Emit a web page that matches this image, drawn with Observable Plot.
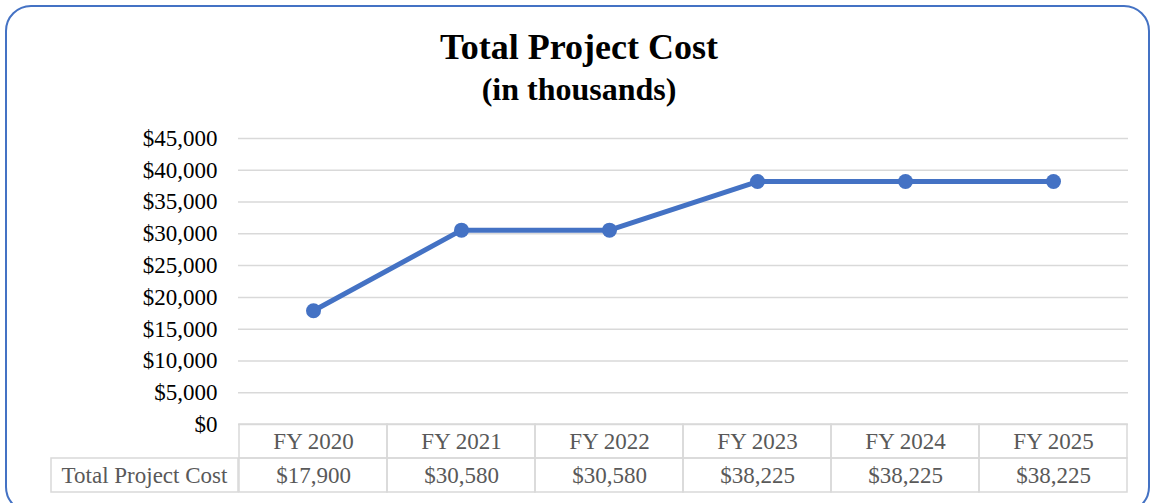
<!DOCTYPE html>
<html>
<head>
<meta charset="utf-8">
<script src="https://cdn.jsdelivr.net/npm/d3@7"></script>
<script src="https://cdn.jsdelivr.net/npm/@observablehq/plot@0.6"></script>
<style>
  html, body { margin: 0; padding: 0; background: #fff; }
  #wrap { position: relative; width: 1151px; height: 503px; overflow: hidden; font-family: "Liberation Serif", "Times New Roman", serif; }
  #border { position: absolute; left: 5px; top: 5px; width: 1141px; height: 504px; border: 2px solid #4472c4; border-radius: 26px; }
  #title { position: absolute; left: 6px; width: 1146px; top: 27px; text-align: center; font-weight: bold; font-size: 36px; line-height: 40px; color: #000; }
  #subtitle { position: absolute; left: 6px; width: 1146px; top: 72px; text-align: center; font-weight: bold; font-size: 32px; line-height: 34px; color: #000; }
  #chart { position: absolute; left: 0; top: 120px; }
  #table { position: absolute; left: 0; top: 423px; }
</style>
</head>
<body>
<div id="wrap">
  <div id="border"></div>
  <div id="title">Total Project Cost</div>
  <div id="subtitle">(in thousands)</div>
  <div id="chart"></div>
  <div id="table"></div>
</div>
<script>
const years = ["FY 2020", "FY 2021", "FY 2022", "FY 2023", "FY 2024", "FY 2025"];
const costs = [17900, 30580, 30580, 38225, 38225, 38225];
const yTicks = [0, 5000, 10000, 15000, 20000, 25000, 30000, 35000, 40000, 45000];
const seriesName = "Total Project Cost";
const headerRow = "header";

const data = years.map((y, i) => ({year: y, cost: costs[i]}));
const money = d => "$" + d3.format(",")(d);
const blue = "#4472c4";
const grid = "#d9d9d9";
const font = "Liberation Serif";

const chart = Plot.plot({
  width: 1151,
  height: 322,
  marginLeft: 238,
  marginRight: 23,
  marginTop: 18,
  marginBottom: 18,
  style: {fontFamily: font, fontSize: "23px", color: "#000", background: "transparent", overflow: "visible"},
  x: {type: "point", domain: years, padding: 0.5, axis: null},
  y: {domain: [0, 45000], ticks: yTicks, tickFormat: money, label: null},
  marks: [
    Plot.gridY(yTicks, {stroke: grid, strokeOpacity: 1, strokeWidth: 1.5}),
    Plot.axisY(yTicks, {tickSize: 0, tickPadding: 21, tickFormat: money, label: null, fill: "#000"}),
    Plot.line(data, {x: "year", y: "cost", stroke: blue, strokeWidth: 5, strokeLinejoin: "round"}),
    Plot.dot(data, {x: "year", y: "cost", r: 7.5, fill: blue, stroke: "none"})
  ]
});
document.getElementById("chart").appendChild(chart);

const tableData = [
  ...years.map(y => ({year: y, row: headerRow, text: y})),
  ...data.map(d => ({year: d.year, row: seriesName, text: money(d.cost)}))
];

const leftCell = (index, scales, values, dims) => {
  const y = scales.y;
  const bw = typeof y.bandwidth === "function" ? y.bandwidth() : (dims.height - dims.marginTop - dims.marginBottom) / 2;
  const g = d3.create("svg:g");
  g.append("rect")
    .attr("x", 51).attr("y", y(seriesName))
    .attr("width", dims.marginLeft - 51).attr("height", bw)
    .attr("fill", "none").attr("stroke", grid).attr("stroke-width", 1.5);
  g.append("text")
    .attr("x", (51 + dims.marginLeft) / 2).attr("y", y(seriesName) + bw / 2)
    .attr("text-anchor", "middle").attr("dy", "0.35em")
    .attr("fill", "#595959").text(seriesName);
  return g.node();
};

const table = Plot.plot({
  width: 1151,
  height: 70,
  marginLeft: 238,
  marginRight: 23,
  marginTop: 1,
  marginBottom: 1,
  style: {fontFamily: font, fontSize: "23px", background: "transparent"},
  x: {type: "band", domain: years, padding: 0, axis: null},
  y: {type: "band", domain: [headerRow, seriesName], padding: 0, axis: null},
  marks: [
    Plot.cell(tableData, {x: "year", y: "row", fill: "none", stroke: grid, strokeWidth: 1.5}),
    Plot.text(tableData, {x: "year", y: "row", text: "text", fill: "#595959", fontSize: 23}),
    leftCell
  ]
});
document.getElementById("table").appendChild(table);
</script>
</body>
</html>
